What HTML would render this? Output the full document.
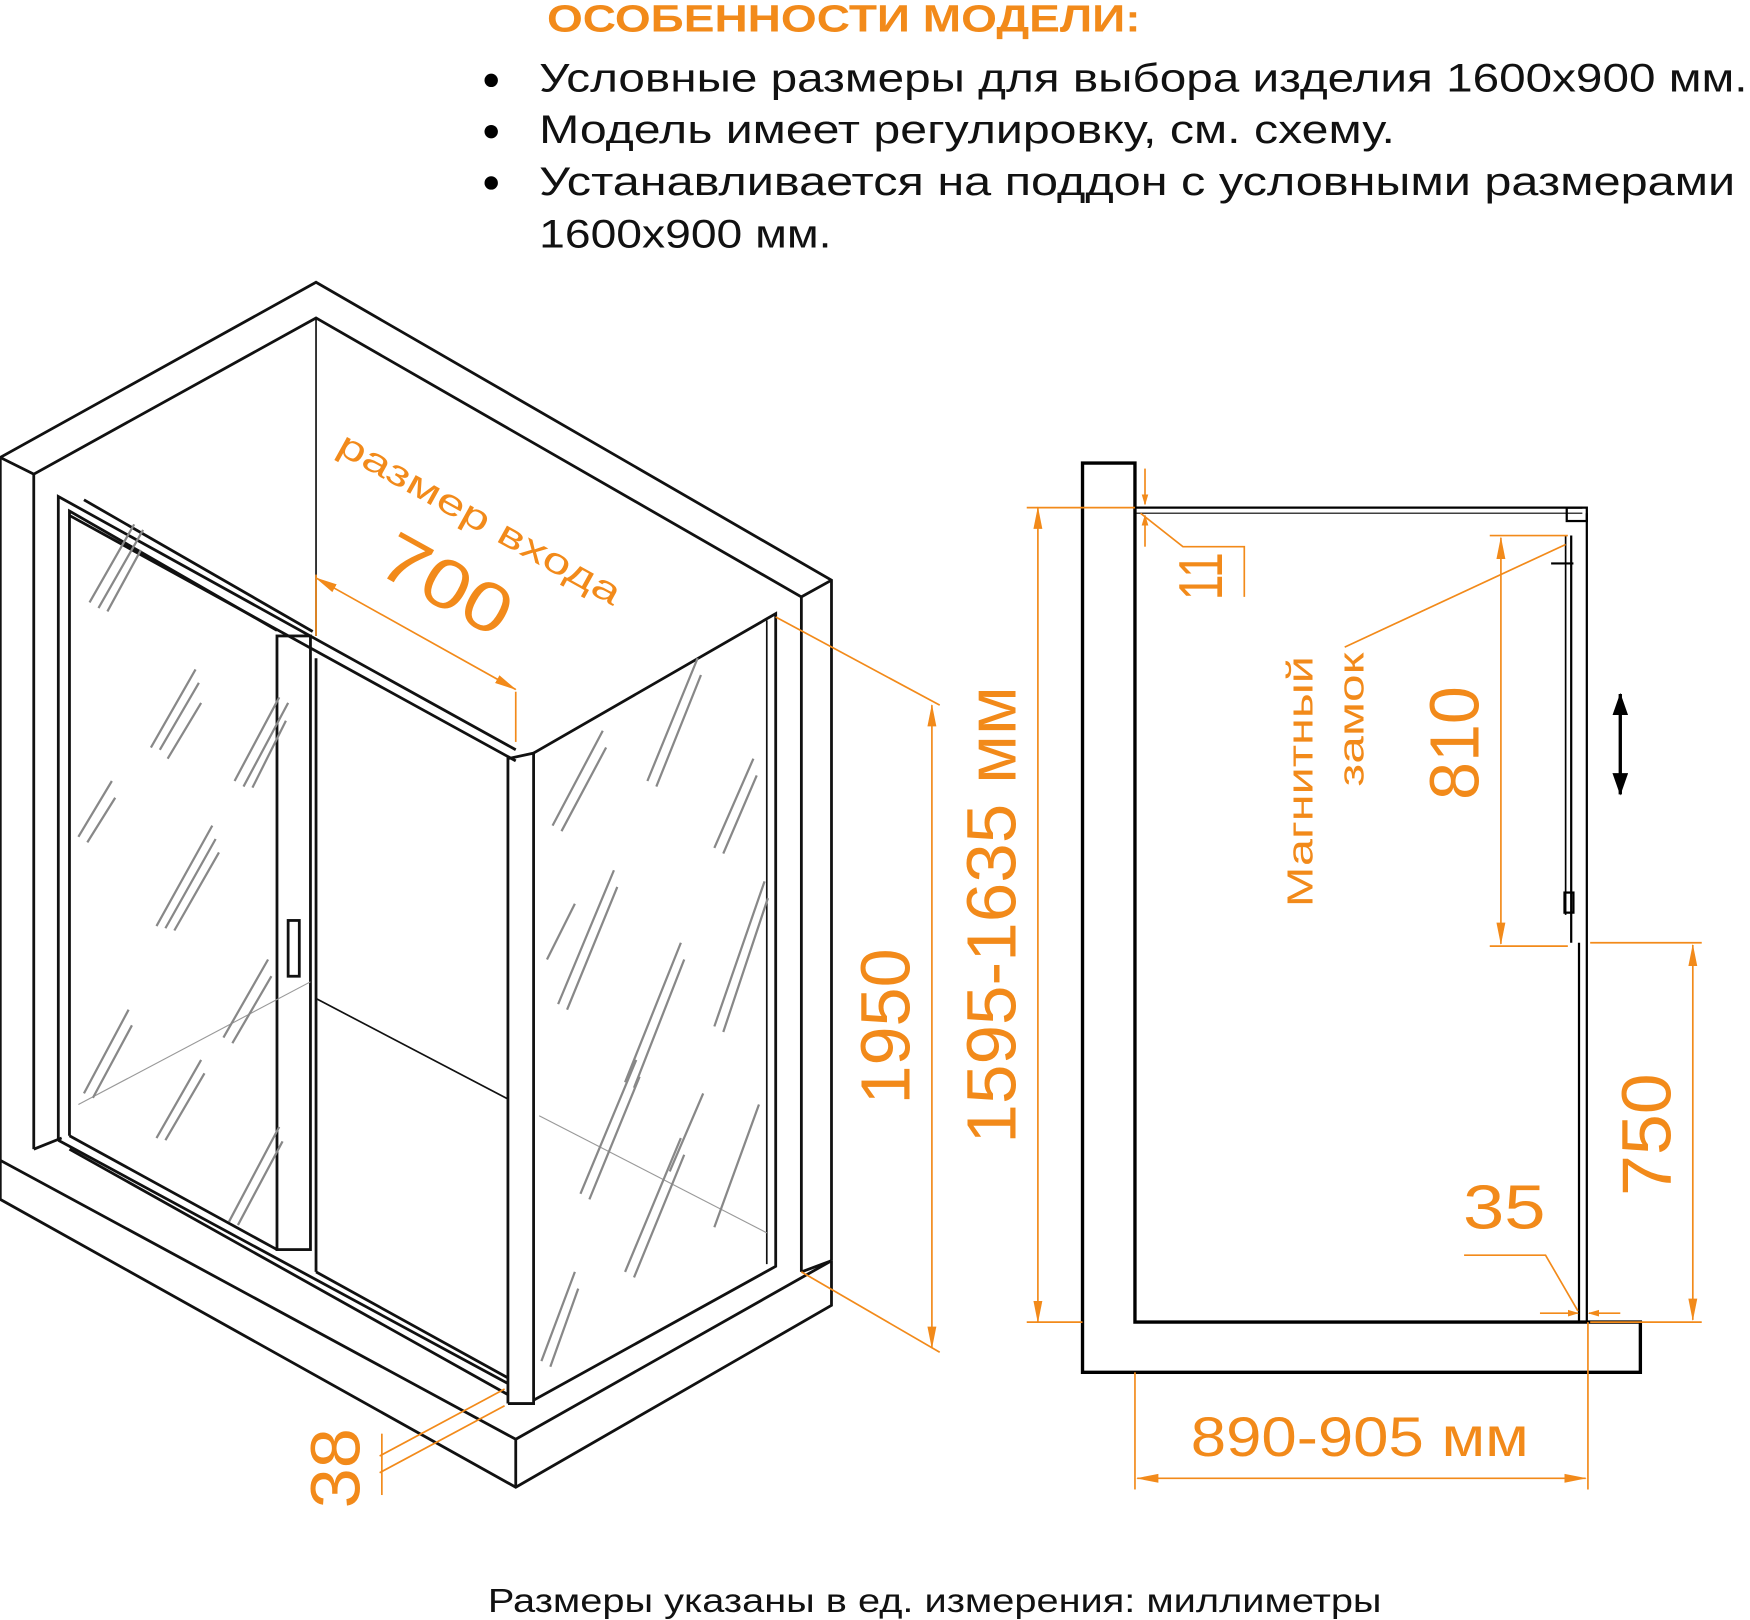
<!DOCTYPE html>
<html><head><meta charset="utf-8"><style>
html,body{margin:0;padding:0;background:#fff}
svg{display:block}
text{font-family:"Liberation Sans",sans-serif}
</style></head><body>
<svg width="1750" height="1620" viewBox="0 0 1568 1452" xmlns="http://www.w3.org/2000/svg">
<defs>
<marker id="a" markerWidth="10" markerHeight="10" refX="9" refY="5" orient="auto" markerUnits="userSpaceOnUse" viewBox="0 0 10 10"><path d="M0,2 L10,5 L0,8z" fill="#F28A1A"/></marker>
<marker id="b" markerWidth="20" markerHeight="12" refX="19" refY="6" orient="auto-start-reverse" markerUnits="userSpaceOnUse" viewBox="0 0 20 12"><path d="M0,2 L20,6 L0,10z" fill="#F28A1A"/></marker>
<marker id="k" markerWidth="20" markerHeight="14" refX="19" refY="7" orient="auto-start-reverse" markerUnits="userSpaceOnUse" viewBox="0 0 20 14"><path d="M0,0 L20,7 L0,14z" fill="#000"/></marker>
</defs>
<text x="490" y="28" font-size="34" font-weight="bold" fill="#F28A1A" textLength="532" lengthAdjust="spacingAndGlyphs">ОСОБЕННОСТИ МОДЕЛИ:</text>
<g font-size="36" fill="#111">
<circle cx="440" cy="72" r="6" fill="#000"/><circle cx="440" cy="118" r="6" fill="#000"/><circle cx="440" cy="164" r="6" fill="#000"/>
<text x="483" y="82" textLength="1083" lengthAdjust="spacingAndGlyphs">Условные размеры для выбора изделия 1600х900 мм.</text>
<text x="483" y="128" textLength="767" lengthAdjust="spacingAndGlyphs">Модель имеет регулировку, см. схему.</text>
<text x="483" y="175" textLength="1072" lengthAdjust="spacingAndGlyphs">Устанавливается на поддон с условными размерами</text>
<text x="483" y="222" textLength="262" lengthAdjust="spacingAndGlyphs">1600х900 мм.</text>
</g>
<g fill="none" stroke="#111" stroke-width="2.5">
<polyline points="0,1040 0,410 283,253 745,520 745,1130"/>
<polyline points="30,1030 30,425 283,285 718,535 718,1140"/>
<line x1="0" y1="410" x2="30" y2="425"/>
<line x1="745" y1="520" x2="718" y2="535"/>
<line x1="283" y1="285" x2="283" y2="570" stroke-width="1.5"/>
<polyline points="0,1040 0,1075 462,1333 745,1170 745,1130"/>
<polyline points="0,1040 462,1290 745,1130"/>
<line x1="462" y1="1290" x2="462" y2="1333"/>
<line x1="30" y1="1030" x2="55" y2="1020"/>
<line x1="718" y1="1140" x2="745" y2="1130"/>
<polyline points="52,1022 52,445 462,672"/>
<polyline points="62,1018 62,458 248,565"/>
<line x1="75" y1="448" x2="280" y2="566"/>
<line x1="62" y1="462" x2="462" y2="682"/>
<rect x="248" y="570" width="30" height="550"/>
<line x1="62" y1="1018" x2="248" y2="1120"/>
<line x1="52" y1="1022" x2="455" y2="1240"/>
<line x1="62" y1="1030" x2="455" y2="1250"/>
<line x1="283" y1="1140" x2="455" y2="1235"/>
<line x1="283" y1="590" x2="283" y2="1140"/>
<line x1="283" y1="895" x2="455" y2="985" stroke-width="1.5"/>
<polyline points="455,1258 455,680 478,675 478,1258 455,1258"/>
<polyline points="478,675 695,550 695,1135 478,1255"/>
<line x1="687" y1="556" x2="687" y2="1133" stroke-width="1.5"/>
<line x1="483" y1="1000" x2="687" y2="1105" stroke-width="1" stroke="#999"/>
<line x1="70" y1="990" x2="278" y2="880" stroke-width="1" stroke="#999"/>
<rect x="258" y="825" width="10" height="50"/>
</g>
<g stroke="#888" stroke-width="2" fill="none">
<path d="M80,540 l40,-70 M88,545 l40,-70 M96,548 l30,-55 M135,670 l40,-70 M143,672 l35,-60 M150,680 l30,-50 M210,700 l40,-75 M218,705 l40,-75 M226,706 l30,-60 M70,750 l30,-50 M78,755 l25,-40 M140,830 l50,-90 M148,832 l45,-80 M156,834 l40,-70 M200,930 l40,-70 M208,935 l35,-60 M75,980 l40,-75 M83,984 l35,-65 M140,1020 l40,-70 M148,1022 l35,-60 M205,1095 l45,-85 M213,1098 l40,-75 M495,740 l45,-85 M503,745 l40,-75 M580,700 l45,-110 M588,705 l40,-100 M640,760 l35,-80 M648,765 l30,-70 M490,860 l25,-50 M500,900 l50,-120 M508,905 l45,-110 M560,970 l50,-125 M568,975 l45,-115 M640,920 l45,-130 M648,925 l40,-120 M520,1070 l50,-120 M528,1075 l45,-110 M600,1050 l30,-70 M560,1140 l50,-120 M568,1145 l45,-110 M640,1100 l40,-110 M485,1220 l30,-80 M493,1225 l25,-70"/>
</g>
<g stroke="#F28A1A" stroke-width="1.5" fill="none">
<line x1="283" y1="515" x2="283" y2="570"/>
<line x1="462" y1="620" x2="462" y2="665"/>
<line x1="283" y1="518" x2="462" y2="618" marker-start="url(#b)" marker-end="url(#b)"/>
<line x1="695" y1="553" x2="842" y2="632"/>
<line x1="718" y1="1140" x2="842" y2="1212"/>
<line x1="835" y1="632" x2="835" y2="1208" marker-start="url(#b)" marker-end="url(#b)"/>
<line x1="340" y1="1305" x2="452" y2="1245"/>
<line x1="340" y1="1320" x2="452" y2="1260"/>
<line x1="342" y1="1285" x2="342" y2="1340"/>
</g>
<g fill="#F28A1A">
<text font-size="32" transform="translate(300,405) rotate(29)" textLength="285" lengthAdjust="spacingAndGlyphs">размер входа</text>
<text font-size="62" transform="translate(335,512) rotate(29)" textLength="125" lengthAdjust="spacingAndGlyphs">700</text>
<text font-size="62" transform="translate(815,990) rotate(-90)" textLength="140" lengthAdjust="spacingAndGlyphs">1950</text>
<text font-size="62" transform="translate(322,1352) rotate(-90)" textLength="72" lengthAdjust="spacingAndGlyphs">38</text>
<text font-size="62" transform="translate(910,1025) rotate(-90)" textLength="410" lengthAdjust="spacingAndGlyphs">1595-1635 мм</text>
</g>
<g fill="none" stroke="#000" stroke-width="3">
<polygon points="970,415 1017,415 1017,1185 1470,1185 1470,1230 970,1230"/>
<line x1="1017" y1="455" x2="1418" y2="455" stroke-width="2"/>
<line x1="1017" y1="460" x2="1418" y2="460" stroke-width="1"/>
<rect x="1404" y="455" width="18" height="12" stroke-width="2"/>
<line x1="1422" y1="460" x2="1422" y2="1185" stroke-width="2"/>
<line x1="1415" y1="845" x2="1415" y2="1185" stroke-width="2"/>
<line x1="1408" y1="480" x2="1408" y2="845" stroke-width="2"/>
<line x1="1403" y1="480" x2="1403" y2="820" stroke-width="1.5"/>
<line x1="1390" y1="505" x2="1410" y2="505" stroke-width="2"/>
<rect x="1402" y="800" width="8" height="18" stroke-width="2"/>
<line x1="1452" y1="622" x2="1452" y2="712" stroke-width="3" marker-start="url(#k)" marker-end="url(#k)"/>
</g>
<g stroke="#F28A1A" stroke-width="1.5" fill="none">
<line x1="920" y1="455" x2="1017" y2="455"/>
<line x1="920" y1="1185" x2="970" y2="1185"/>
<line x1="930" y1="455" x2="930" y2="1185" marker-start="url(#b)" marker-end="url(#b)"/>
<line x1="1026" y1="420" x2="1026" y2="452" marker-end="url(#a)"/>
<line x1="1026" y1="490" x2="1026" y2="462" marker-end="url(#a)"/>
<polyline points="1022,460 1060,490 1115,490 1115,535"/>
<line x1="1335" y1="480" x2="1405" y2="480"/>
<line x1="1335" y1="848" x2="1405" y2="848"/>
<line x1="1345" y1="482" x2="1345" y2="846" marker-start="url(#b)" marker-end="url(#b)"/>
<line x1="1205" y1="580" x2="1403" y2="488"/>
<line x1="1425" y1="845" x2="1525" y2="845"/>
<line x1="1425" y1="1185" x2="1525" y2="1185"/>
<line x1="1517" y1="847" x2="1517" y2="1183" marker-start="url(#b)" marker-end="url(#b)"/>
<polyline points="1312,1125 1385,1125 1414,1175"/>
<line x1="1380" y1="1177" x2="1414" y2="1177" marker-end="url(#a)"/>
<line x1="1452" y1="1177" x2="1424" y2="1177" marker-end="url(#a)"/>
<line x1="1017" y1="1230" x2="1017" y2="1335"/>
<line x1="1423" y1="1185" x2="1423" y2="1335"/>
<line x1="1019" y1="1325" x2="1421" y2="1325" marker-start="url(#b)" marker-end="url(#b)"/>
</g>
<g fill="#F28A1A">
<text font-size="56" transform="translate(1095,538) rotate(-90)" textLength="43" lengthAdjust="spacingAndGlyphs">11</text>
<text font-size="32" transform="translate(1176,813) rotate(-90)" textLength="225" lengthAdjust="spacingAndGlyphs">Магнитный</text>
<text font-size="32" transform="translate(1222,705) rotate(-90)" textLength="120" lengthAdjust="spacingAndGlyphs">замок</text>
<text font-size="62" transform="translate(1325,717) rotate(-90)" textLength="102" lengthAdjust="spacingAndGlyphs">810</text>
<text font-size="62" transform="translate(1497,1072) rotate(-90)" textLength="110" lengthAdjust="spacingAndGlyphs">750</text>
<text font-size="56" x="1311" y="1101" textLength="74" lengthAdjust="spacingAndGlyphs">35</text>
<text font-size="50" x="1067" y="1305" textLength="303" lengthAdjust="spacingAndGlyphs">890-905 мм</text>
</g>
<text x="437" y="1445" font-size="30" fill="#111" textLength="801" lengthAdjust="spacingAndGlyphs">Размеры указаны в ед. измерения: миллиметры</text>
</svg>
</body></html>
